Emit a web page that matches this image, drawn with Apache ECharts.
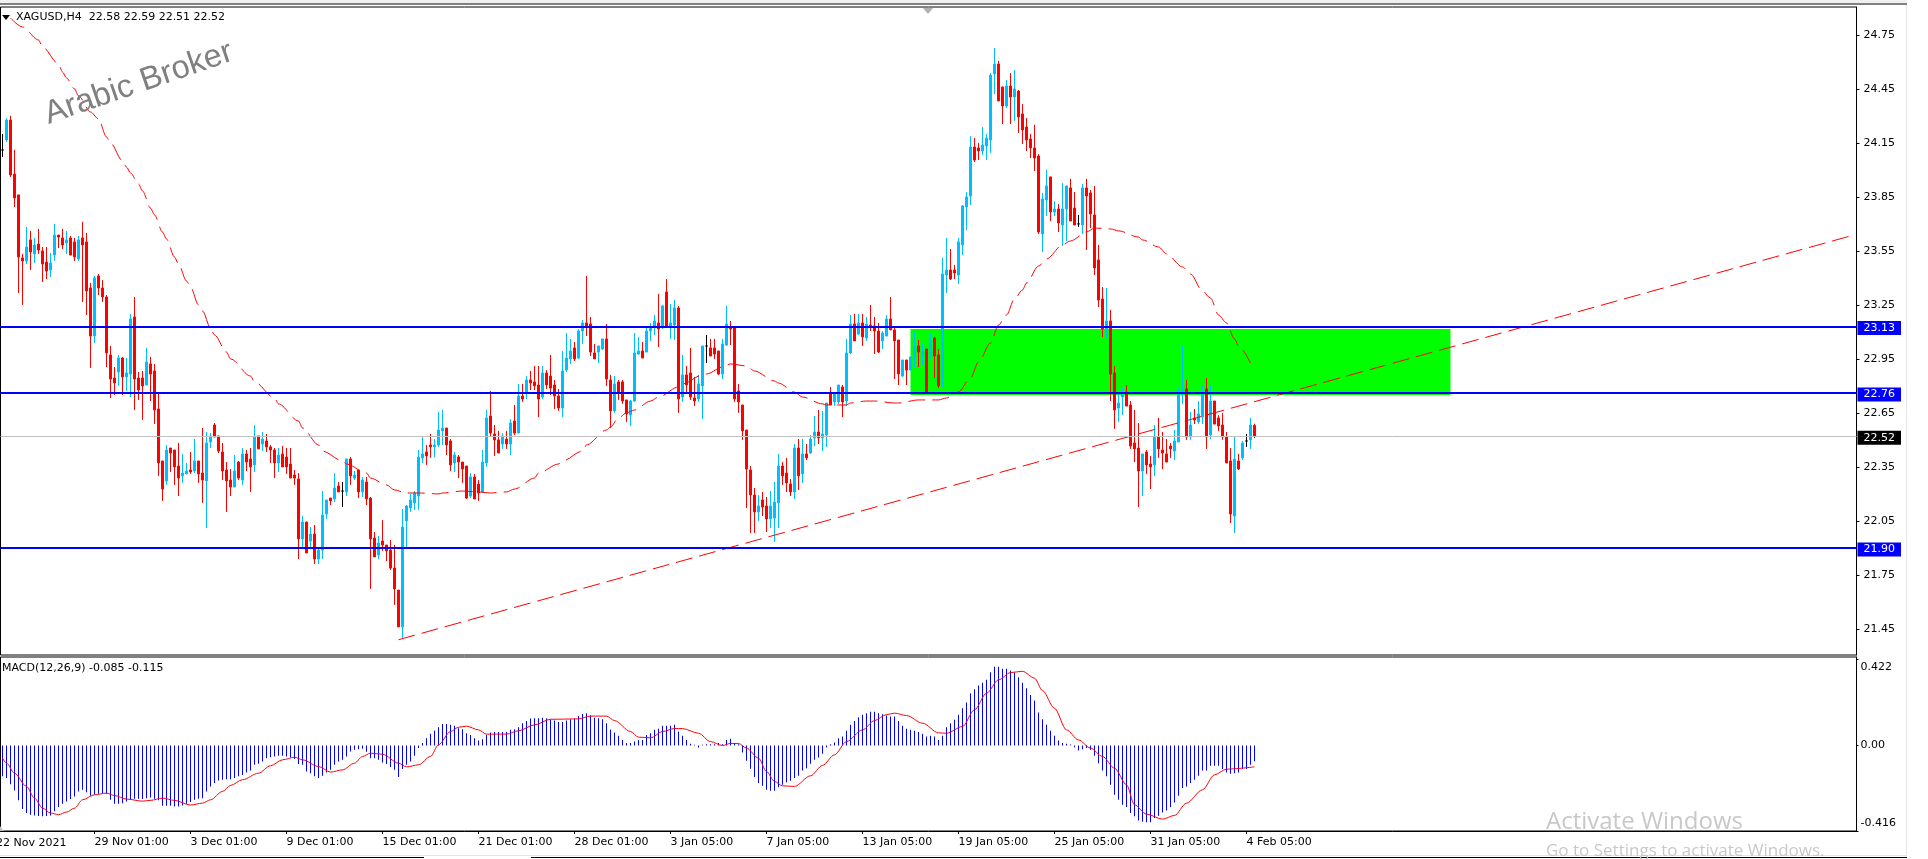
<!DOCTYPE html>
<html>
<head>
<meta charset="utf-8">
<title>XAGUSD,H4</title>
<script src="https://cdn.jsdelivr.net/npm/echarts@6/dist/echarts.min.js"></script>
<style>
html, body { margin: 0; padding: 0; background: #fff; }
#chart { width: 1928px; height: 859px; }
</style>
</head>
<body>
<div id="chart"></div>
<script>
// bars, oldest first
const opens = [
24.111,24.166,24.277,23.977,23.861,23.511,23.494,23.611,23.533,23.588,
23.550,23.488,23.444,23.527,23.638,23.622,23.594,23.622,23.600,23.505,
23.622,23.600,23.344,23.077,23.411,23.344,23.294,22.972,22.844,22.877,
22.955,22.850,22.866,23.183,22.844,22.844,22.805,22.922,22.883,22.672,
22.383,22.272,22.455,22.444,22.355,22.300,22.311,22.333,22.327,22.383,
22.316,22.272,22.488,22.583,22.522,22.433,22.333,22.277,22.238,22.377,
22.277,22.422,22.394,22.361,22.522,22.477,22.494,22.461,22.444,22.372,
22.422,22.405,22.366,22.305,22.283,21.950,22.044,21.938,21.977,21.838,
21.888,22.088,22.177,22.172,22.244,22.216,22.211,22.394,22.288,22.333,
22.211,22.266,22.177,21.955,21.861,21.938,21.916,21.888,21.788,21.666,
21.461,22.050,22.122,22.150,22.188,22.400,22.433,22.472,22.461,22.472,
22.550,22.566,22.494,22.372,22.405,22.377,22.355,22.188,22.294,22.255,
22.211,22.372,22.633,22.533,22.500,22.477,22.505,22.477,22.605,22.538,
22.744,22.761,22.833,22.822,22.805,22.738,22.872,22.855,22.805,22.744,
22.677,22.888,22.950,23.011,22.955,23.105,23.150,23.144,22.983,22.988,
23.005,23.061,22.833,22.661,22.822,22.822,22.722,22.638,22.716,22.977,
22.994,22.988,23.105,23.127,23.150,23.127,23.322,23.127,23.138,23.233,
22.738,22.861,22.872,22.733,22.727,22.800,23.022,23.011,23.011,22.994,
22.866,23.027,23.127,23.127,22.772,22.694,22.555,22.333,22.194,22.100,
22.166,22.133,22.061,22.066,22.150,22.355,22.316,22.255,22.211,22.455,
22.311,22.422,22.427,22.511,22.544,22.511,22.527,22.761,22.711,22.711,
22.794,22.716,22.983,23.144,23.088,23.150,23.066,23.138,23.133,23.105,
23.050,23.077,23.172,23.111,23.055,22.855,22.944,22.888,22.955,23.022,
22.966,23.005,22.955,23.066,22.972,22.800,23.416,23.444,23.444,23.416,
23.583,23.794,23.855,24.127,24.122,24.105,24.133,24.166,24.533,24.588,
24.461,24.355,24.466,24.405,24.438,24.311,24.238,24.172,24.122,24.077,
23.644,23.833,23.961,23.766,23.783,23.694,23.783,23.900,23.788,23.700,
23.694,23.900,23.872,23.750,23.500,23.283,23.072,23.161,22.872,22.677,
22.738,22.766,22.694,22.483,22.455,22.327,22.433,22.366,22.361,22.516,
22.444,22.422,22.466,22.438,22.488,22.750,22.783,22.516,22.622,22.600,
22.627,22.783,22.527,22.716,22.622,22.583,22.516,22.383,22.077,22.383,
22.400,22.494,22.500,22.58]
const highs = [
24.200,24.288,24.300,24.111,23.861,23.533,23.683,23.661,23.622,23.672,
23.572,23.572,23.538,23.700,23.638,23.672,23.661,23.633,23.622,23.633,
23.711,23.650,23.372,23.411,23.422,23.388,23.305,23.022,22.905,22.972,
22.961,22.955,23.200,23.294,22.877,22.883,23.011,22.961,22.922,22.761,
22.383,22.472,22.455,22.444,22.483,22.422,22.372,22.433,22.505,22.383,
22.566,22.544,22.538,22.594,22.522,22.483,22.377,22.338,22.416,22.383,
22.455,22.444,22.455,22.583,22.522,22.544,22.533,22.472,22.455,22.455,
22.466,22.455,22.455,22.333,22.316,22.077,22.044,22.016,22.027,21.894,
22.216,22.166,22.177,22.316,22.266,22.266,22.394,22.405,22.327,22.333,
22.294,22.294,22.183,21.988,21.966,22.055,21.916,21.944,21.916,21.666,
22.116,22.138,22.200,22.216,22.444,22.522,22.472,22.533,22.505,22.655,
22.666,22.566,22.505,22.433,22.416,22.377,22.355,22.316,22.311,22.277,
22.444,22.666,22.772,22.583,22.550,22.538,22.550,22.616,22.694,22.811,
22.811,22.855,22.883,22.911,22.911,22.911,22.888,22.972,22.833,22.783,
22.994,23.094,23.061,23.044,23.116,23.166,23.411,23.183,23.033,23.022,
23.061,23.144,22.861,22.855,22.833,22.833,22.722,22.722,23.094,23.072,
23.044,23.122,23.150,23.194,23.311,23.250,23.394,23.255,23.278,23.244,
22.972,22.911,23.011,22.850,22.861,23.022,23.083,23.061,23.061,22.994,
23.061,23.244,23.161,23.127,22.811,22.694,22.555,22.355,22.233,22.194,
22.211,22.183,22.216,22.266,22.422,22.377,22.400,22.283,22.477,22.505,
22.505,22.477,22.527,22.633,22.666,22.661,22.705,22.794,22.761,22.805,
22.805,23.061,23.194,23.200,23.200,23.200,23.183,23.250,23.183,23.150,
23.105,23.194,23.294,23.133,23.055,22.944,22.944,22.961,23.105,23.055,
23.038,23.005,23.094,23.072,23.005,23.511,23.622,23.561,23.472,23.622,
23.805,23.877,24.188,24.177,24.150,24.238,24.200,24.538,24.677,24.605,
24.461,24.500,24.538,24.555,24.444,24.366,24.288,24.200,24.250,24.088,
23.872,24.000,23.961,23.827,23.811,23.927,23.911,23.950,23.877,23.750,
23.922,23.950,23.888,23.911,23.583,23.349,23.344,23.222,22.911,22.755,
22.794,22.805,22.716,22.666,22.594,22.422,22.444,22.411,22.583,22.622,
22.544,22.505,22.483,22.555,22.794,23.022,22.833,22.655,22.672,22.716,
22.805,22.844,22.805,22.716,22.638,22.650,22.544,22.455,22.516,22.422,
22.494,22.533,22.622,22.59]
const lows = [
24.072,24.155,23.961,23.794,23.316,23.250,23.477,23.444,23.483,23.533,
23.377,23.394,23.405,23.494,23.566,23.561,23.533,23.527,23.494,23.494,
23.266,23.194,22.900,23.038,23.305,23.266,22.905,22.733,22.750,22.800,
22.750,22.772,22.738,22.666,22.722,22.611,22.805,22.716,22.588,22.300,
22.161,22.250,22.322,22.250,22.188,22.261,22.311,22.311,22.316,22.261,
22.150,22.011,22.455,22.516,22.427,22.277,22.100,22.188,22.238,22.277,
22.250,22.327,22.211,22.322,22.450,22.438,22.433,22.372,22.288,22.322,
22.350,22.311,22.288,22.250,21.838,21.894,21.872,21.894,21.811,21.811,
21.838,22.061,22.138,22.155,22.211,22.127,22.188,22.250,22.277,22.177,
22.183,22.138,21.672,21.850,21.838,21.883,21.827,21.777,21.583,21.461,
21.400,21.894,22.100,22.111,22.111,22.372,22.361,22.400,22.405,22.461,
22.472,22.416,22.327,22.322,22.288,22.261,22.172,22.177,22.172,22.161,
22.205,22.350,22.522,22.411,22.427,22.450,22.450,22.416,22.527,22.538,
22.711,22.727,22.777,22.777,22.627,22.727,22.783,22.750,22.672,22.661,
22.627,22.877,22.922,22.938,22.950,23.033,23.077,22.966,22.950,22.927,
23.000,22.800,22.566,22.650,22.722,22.700,22.600,22.577,22.711,22.972,
22.955,22.988,23.050,23.083,23.016,23.116,23.127,23.061,23.055,22.650,
22.711,22.755,22.722,22.688,22.711,22.616,22.927,22.966,22.950,22.861,
22.838,23.022,23.027,22.711,22.650,22.500,22.122,21.983,21.983,22.050,
22.077,21.988,22.011,21.933,22.011,22.250,22.211,22.188,22.172,22.222,
22.261,22.388,22.422,22.466,22.477,22.438,22.461,22.694,22.688,22.700,
22.627,22.688,22.977,23.050,23.083,23.022,23.050,23.105,22.977,22.983,
23.005,23.077,23.111,22.838,22.805,22.850,22.805,22.888,22.905,22.905,
22.916,22.766,22.955,22.844,22.788,22.794,23.316,23.388,23.394,23.366,
23.527,23.666,23.805,24.044,24.055,24.083,24.055,24.094,24.422,24.383,
24.255,24.344,24.255,24.272,24.205,24.144,24.105,24.066,23.994,23.644,
23.544,23.744,23.716,23.744,23.655,23.577,23.605,23.716,23.694,23.683,
23.644,23.555,23.677,23.416,23.238,23.072,23.072,22.716,22.561,22.600,
22.638,22.688,22.450,22.377,22.127,22.188,22.311,22.227,22.300,22.400,
22.338,22.377,22.400,22.388,22.488,22.700,22.500,22.500,22.588,22.588,
22.588,22.450,22.505,22.588,22.550,22.500,22.372,22.038,21.983,22.333,
22.388,22.461,22.450,22.51]
const closes = [
24.111,24.277,23.972,23.844,23.516,23.494,23.572,23.544,23.583,23.555,
23.477,23.438,23.483,23.638,23.627,23.583,23.611,23.527,23.516,23.611,
23.583,23.327,23.077,23.400,23.344,23.294,22.983,22.838,22.816,22.955,
22.850,22.872,23.172,22.838,22.777,22.800,22.933,22.866,22.666,22.372,
22.227,22.444,22.427,22.350,22.288,22.316,22.327,22.322,22.383,22.311,
22.277,22.483,22.522,22.516,22.438,22.327,22.272,22.238,22.327,22.288,
22.422,22.377,22.350,22.516,22.450,22.505,22.461,22.444,22.372,22.416,
22.350,22.350,22.288,22.288,21.950,22.044,21.872,21.977,21.838,21.888,
22.083,22.166,22.161,22.233,22.211,22.216,22.394,22.300,22.305,22.211,
22.277,22.172,21.950,21.850,21.927,21.916,21.883,21.788,21.672,21.461,
22.016,22.133,22.166,22.205,22.405,22.422,22.411,22.461,22.472,22.555,
22.566,22.472,22.361,22.416,22.377,22.338,22.177,22.294,22.172,22.205,
22.377,22.622,22.538,22.500,22.427,22.522,22.477,22.594,22.538,22.744,
22.727,22.833,22.816,22.800,22.727,22.872,22.805,22.788,22.744,22.677,
22.883,22.955,22.994,22.950,23.105,23.150,23.127,22.988,22.950,23.022,
23.061,22.838,22.661,22.811,22.761,22.716,22.644,22.716,22.983,22.994,
22.955,23.105,23.127,23.161,23.116,23.244,23.127,23.150,23.233,22.727,
22.861,22.805,22.738,22.716,22.811,23.022,23.022,22.966,22.977,22.866,
23.033,23.144,23.116,22.727,22.711,22.550,22.338,22.194,22.100,22.133,
22.127,22.061,22.133,22.155,22.355,22.300,22.261,22.211,22.455,22.300,
22.422,22.400,22.505,22.544,22.511,22.533,22.705,22.694,22.761,22.805,
22.711,22.983,23.144,23.050,23.150,23.072,23.144,23.127,23.105,22.988,
23.094,23.172,23.111,23.050,22.866,22.944,22.888,22.961,23.016,22.988,
22.988,22.766,23.055,22.966,22.800,23.422,23.444,23.394,23.427,23.600,
23.800,23.850,24.127,24.055,24.105,24.138,24.177,24.527,24.588,24.383,
24.355,24.466,24.405,24.450,24.294,24.222,24.166,24.122,24.066,23.655,
23.838,23.911,23.766,23.783,23.705,23.783,23.911,23.716,23.694,23.700,
23.900,23.855,23.755,23.455,23.277,23.116,23.161,22.866,22.666,22.705,
22.761,22.688,22.466,22.450,22.327,22.422,22.361,22.350,22.516,22.450,
22.427,22.377,22.450,22.494,22.777,22.783,22.516,22.583,22.611,22.644,
22.755,22.516,22.716,22.588,22.577,22.516,22.372,22.088,22.394,22.338,
22.483,22.494,22.583,22.52]

// moving average, read at these bars
const maBars = [2,5,9,10,14,15,16,18,19,22,24,26,27,30,31,32,34,35,37,38,40,41,43,44,46,47,49,50,52,53,56,57,62,63,68,69,74,75,79,80,85,86,91,92,96,98,101,104,109,110,115,119,122,126,128,133,134,139,140,145,146,151,152,154,156,158,162,164,169,170,175,176,180,182,186,188,193,194,198,200,205,206,211,212,216,218,223,224,229,230,234,236,239,242,244,247,249,251,253,255,256,259,261,265,267,271,273,277,279,284,285,289,291,295,297,300,302,304,306,308,309,312]
const maValues = [24.844,24.794,24.722,24.683,24.589,24.544,24.511,24.450,24.411,24.322,24.283,24.183,24.150,24.050,24.016,23.983,23.922,23.883,23.788,23.750,23.655,23.616,23.516,23.477,23.383,23.350,23.250,23.216,23.122,23.083,22.988,22.950,22.855,22.822,22.733,22.700,22.605,22.566,22.472,22.438,22.383,22.366,22.316,22.288,22.250,22.222,22.205,22.205,22.200,22.205,22.216,22.211,22.205,22.211,22.227,22.288,22.316,22.366,22.383,22.438,22.472,22.555,22.572,22.622,22.650,22.666,22.716,22.738,22.794,22.811,22.861,22.866,22.905,22.922,22.911,22.883,22.827,22.816,22.766,22.738,22.700,22.694,22.694,22.705,22.716,22.716,22.705,22.705,22.722,22.722,22.722,22.733,22.766,22.844,22.933,23.038,23.138,23.194,23.283,23.333,23.372,23.466,23.505,23.583,23.605,23.655,23.677,23.672,23.661,23.627,23.611,23.572,23.533,23.461,23.422,23.327,23.288,23.194,23.150,23.061,23.022,22.927]

// objects drawn on the chart
const trendBars = [99, 462]
const trendValues = [21.39, 23.633]
const zoneBars = [227, 362]
const zoneValues = [23.116, 22.75]
const levels = [23.13, 22.76, 21.9]
const bid = 22.52

// MACD histogram, one per bar
const macdHist = [
-.166,-.175,-.208,-.242,-.295,-.342,-.363,-.372,-.376,-.379,
-.381,-.379,-.376,-.354,-.331,-.313,-.301,-.288,-.274,-.247,
-.238,-.252,-.270,-.263,-.260,-.256,-.260,-.292,-.313,-.313,
-.310,-.301,-.292,-.286,-.286,-.288,-.283,-.279,-.286,-.295,
-.324,-.324,-.324,-.328,-.328,-.322,-.313,-.304,-.292,-.286,
-.283,-.247,-.220,-.202,-.188,-.184,-.181,-.181,-.175,-.166,
-.158,-.145,-.134,-.104,-.098,-.086,-.068,-.063,-.059,-.055,
-.055,-.059,-.063,-.073,-.100,-.104,-.140,-.149,-.166,-.175,
-.163,-.145,-.131,-.104,-.086,-.077,-.059,-.032,-.023,-.020,
-.018,-.034,-.068,-.068,-.077,-.091,-.100,-.116,-.131,-.170,
-.127,-.104,-.086,-.055,-.014,.013,.039,.063,.081,.098,
.116,.116,.111,.106,.093,.088,.066,.057,.039,.027,
.034,.057,.070,.073,.073,.073,.073,.084,.088,.098,
.120,.132,.145,.147,.147,.149,.147,.138,.134,.127,
.127,.134,.141,.145,.159,.170,.174,.163,.149,.147,
.141,.120,.084,.070,.052,.030,.013,.013,.021,.030,
.030,.057,.066,.084,.090,.106,.106,.106,.111,.075,
.052,.030,.009,.004,-.011,.004,.007,.007,.007,.013,
.007,.030,.036,.013,.007,-.038,-.082,-.125,-.170,-.202,
-.217,-.238,-.243,-.243,-.224,-.211,-.197,-.190,-.175,-.163,
-.134,-.122,-.098,-.077,-.064,-.045,-.011,.007,.016,.039,
.048,.079,.111,.132,.152,.165,.174,.181,.181,.174,
.168,.161,.156,.156,.132,.106,.090,.084,.079,.072,
.063,.048,.052,.048,.030,.052,.098,.120,.138,.165,
.200,.231,.281,.303,.322,.338,.353,.394,.424,.424,
.412,.412,.403,.392,.367,.338,.308,.272,.242,.177,
.141,.111,.079,.052,.027,.013,.009,.005,-.009,-.027,
-.020,-.014,-.023,-.055,-.095,-.134,-.166,-.211,-.265,-.292,
-.319,-.331,-.363,-.381,-.403,-.410,-.413,-.413,-.390,-.378,
-.360,-.349,-.331,-.306,-.270,-.229,-.220,-.202,-.184,-.163,
-.134,-.134,-.109,-.109,-.109,-.127,-.145,-.152,-.149,-.145,
-.127,-.127,-.104,-.085]

// MACD signal line, read at these bars
const signalBars = [0,1,3,6,8,10,12,14,16,18,20,23,26,28,31,35,37,40,43,47,50,52,55,57,60,64,67,70,73,75,79,82,85,88,90,92,95,99,101,104,107,109,112,114,116,119,121,126,129,133,137,144,147,151,153,157,159,162,165,168,170,174,177,180,182,184,186,189,191,193,195,198,202,205,208,211,215,218,221,223,226,230,234,236,240,243,246,249,252,255,258,260,263,266,269,272,275,278,281,283,286,290,293,296,300,303,306,313]
const signalValues = [-.068,-.095,-.149,-.220,-.283,-.337,-.363,-.372,-.358,-.337,-.292,-.265,-.256,-.269,-.288,-.299,-.295,-.283,-.295,-.320,-.310,-.292,-.247,-.215,-.184,-.149,-.109,-.077,-.063,-.077,-.113,-.143,-.131,-.095,-.059,-.041,-.047,-.095,-.115,-.104,-.059,.004,.075,.098,.104,.084,.061,.061,.079,.111,.141,.143,.158,.158,.134,.075,.045,.041,.075,.091,.091,.066,.021,0,.011,.011,-.014,-.068,-.140,-.193,-.217,-.220,-.163,-.107,-.050,.021,.084,.134,.166,.174,.161,.120,.068,.066,.102,.192,.281,.353,.392,.399,.362,.295,.200,.084,.030,-.014,-.059,-.122,-.211,-.319,-.369,-.396,-.376,-.310,-.238,-.158,-.127,-.115]

// axis ticks
const tickBars = [23,47,71,95,119,143,167,191,215,239,263,287,311]
const tickLabels = ['29 Nov 01:00','3 Dec 01:00','9 Dec 01:00','15 Dec 01:00','21 Dec 01:00','28 Dec 01:00','3 Jan 05:00','7 Jan 05:00','13 Jan 05:00','19 Jan 05:00','25 Jan 05:00','31 Jan 05:00','4 Feb 05:00']
const priceTicks = [24.75,24.45,24.15,23.85,23.55,23.25,22.95,22.65,22.35,22.05,21.75,21.45]
const macdLabelValues = [0.422,0,-0.416]
const macdLabels = ['0.422','0.00','-0.416']
const macdTickMarks = [0.465,0,-0.4597]

const SLOTS = 464
const FONT = '"DejaVu Sans"'
const categories = Array.from({length: SLOTS}, (_, i) => {
  let k = tickBars.indexOf(i)
  return k >= 0 ? tickLabels[k] : String(i)
})
const isTick = (i) => tickBars.indexOf(i) >= 0
const pairs = (xs, ys) => xs.map((x, i) => [x, ys[i]])
const candles = opens.map((o, i) => [o, closes[i], lows[i], highs[i]])

function levelLine(v, color, width, tagColor) {
  return {
    yAxis: v,
    lineStyle: {color: color, width: width, type: 'solid'},
    label: {
      show: true, position: 'end', distance: 1, offset: [0, 1.5],
      formatter: v.toFixed(2), color: '#fff', backgroundColor: tagColor,
      padding: [1, 6, 1, 6], fontFamily: FONT, fontSize: 11, lineHeight: 12
    }
  }
}

let chart = echarts.init(document.getElementById('chart'), null, {renderer: 'canvas'})
chart.setOption({
  animation: false,
  backgroundColor: '#fff',
  grid: [
    {left: 0.5, top: 7, width: 1856, height: 648, show: true, borderColor: '#000', borderWidth: 1, backgroundColor: 'transparent'},
    {left: 0.5, top: 657, width: 1856, height: 174, show: true, borderColor: '#000', borderWidth: 1, backgroundColor: 'transparent'}
  ],
  xAxis: [
    {type: 'category', gridIndex: 0, data: categories, boundaryGap: true, axisLine: {show: false}, axisTick: {show: false}, axisLabel: {show: false}, splitLine: {show: false}},
    {
      type: 'category', gridIndex: 1, data: categories, boundaryGap: true,
      axisLine: {show: true, onZero: false, lineStyle: {color: '#000'}},
      axisTick: {show: true, alignWithLabel: true, length: 3, interval: isTick, lineStyle: {color: '#000'}},
      axisLabel: {show: true, interval: isTick, align: 'left', margin: 6, color: '#000', fontFamily: FONT, fontSize: 11},
      splitLine: {show: false}
    }
  ],
  yAxis: [
    {
      type: 'value', gridIndex: 0, position: 'right', min: 21.305, max: 24.905, scale: true,
      axisLine: {show: true, lineStyle: {color: '#000'}},
      axisTick: {show: true, length: 3, customValues: priceTicks, lineStyle: {color: '#000'}},
      axisLabel: {show: true, margin: 7, customValues: priceTicks, formatter: (v) => v.toFixed(2), color: '#000', fontFamily: FONT, fontSize: 11, showMinLabel: true, showMaxLabel: true},
      splitLine: {show: false}
    },
    {
      type: 'value', gridIndex: 1, position: 'right', min: -0.4597, max: 0.4758, scale: true,
      axisLine: {show: true, lineStyle: {color: '#000'}},
      axisTick: {show: true, length: 2, customValues: macdTickMarks, lineStyle: {color: '#000'}},
      axisLabel: {show: true, margin: 4, customValues: macdLabelValues, formatter: (v) => macdLabels[macdLabelValues.indexOf(v)], color: '#000', fontFamily: FONT, fontSize: 11},
      splitLine: {show: false}
    }
  ],
  series: [
    {
      name: 'zone', type: 'line', xAxisIndex: 0, yAxisIndex: 0, data: [], z: 1, silent: true,
      markArea: {
        silent: true, itemStyle: {color: '#00ff00', opacity: 1},
        data: [[{coord: [zoneBars[0], zoneValues[0]]}, {coord: [zoneBars[1], zoneValues[1]]}]]
      },
      markLine: {
        silent: true, symbol: 'none', animation: false,
        data: [levelLine(bid, '#c0c0c0', 1, '#000')]
      }
    },
    {
      name: 'XAGUSD', type: 'candlestick', xAxisIndex: 0, yAxisIndex: 0, z: 2,
      data: candles, barWidth: 3, large: false, progressive: 0, clip: true,
      itemStyle: {color: '#00bfff', color0: '#ff0000', borderColor: '#00bfff', borderColor0: '#ff0000', borderColorDoji: '#000', borderWidth: 1}
    },
    {
      name: 'MA', type: 'line', xAxisIndex: 0, yAxisIndex: 0, z: 3, silent: true,
      data: pairs(maBars, maValues), showSymbol: false, symbol: 'none',
      smooth: 0.3, smoothMonotone: 'x',
      lineStyle: {color: '#ff0000', width: 1, type: [17, 7]}
    },
    {
      name: 'trend', type: 'line', xAxisIndex: 0, yAxisIndex: 0, z: 3, silent: true,
      data: pairs(trendBars, trendValues), showSymbol: false, symbol: 'none',
      lineStyle: {color: '#ff0000', width: 1, type: [17, 7]}
    },
    {
      name: 'levels', type: 'line', xAxisIndex: 0, yAxisIndex: 0, data: [], z: 4, silent: true,
      markLine: {
        silent: true, symbol: 'none', animation: false,
        data: levels.map((v) => levelLine(v, '#0000ff', 2, '#0000ff'))
      }
    },
    {
      name: 'MACD', type: 'bar', xAxisIndex: 1, yAxisIndex: 1, z: 2, data: macdHist,
      barWidth: 1, itemStyle: {color: '#0000ff'}, silent: true
    },
    {
      name: 'Signal', type: 'line', xAxisIndex: 1, yAxisIndex: 1, z: 3, silent: true,
      data: pairs(signalBars, signalValues), showSymbol: false, symbol: 'none',
      smooth: 0.3, smoothMonotone: 'x',
      lineStyle: {color: '#ff0000', width: 1}
    }
  ],
  graphic: [
    // window frame
    {type: 'rect', shape: {x: 0, y: 0, width: 1907, height: 3}, style: {fill: '#f0f0f0'}, silent: true},
    {type: 'rect', shape: {x: 0, y: 3, width: 1907, height: 2}, style: {fill: '#808080'}, silent: true},
    {type: 'rect', shape: {x: 1906, y: 5, width: 1, height: 850}, style: {fill: '#e4e4e4'}, silent: true},
    {type: 'rect', shape: {x: 0, y: 855, width: 1907, height: 1}, style: {fill: '#e4e4e4'}, silent: true},
    {type: 'rect', shape: {x: 0, y: 857, width: 424, height: 1}, style: {fill: '#000'}, silent: true},
    {type: 'rect', shape: {x: 531, y: 857, width: 1376, height: 1}, style: {fill: '#000'}, silent: true},
    {type: 'polygon', shape: {points: [[2, 15], [10, 15], [6, 20]]}, style: {fill: '#000'}, silent: true},
    {type: 'polygon', shape: {points: [[923, 8], [933, 8], [928, 14]]}, style: {fill: '#b0b0b0'}, silent: true},
    {type: 'polygon', shape: {points: [[0, 826], [4, 831], [0, 831]]}, style: {fill: '#c0c0c0'}, silent: true},
    {type: 'text', x: 16, y: 17, z: 10, silent: true, style: {text: 'XAGUSD,H4  22.58 22.59 22.51 22.52', fill: '#000', font: '11px ' + FONT, textVerticalAlign: 'middle'}},
    {type: 'text', x: 2, y: 668, z: 10, silent: true, style: {text: 'MACD(12,26,9) -0.085 -0.115', fill: '#000', font: '11px ' + FONT, textVerticalAlign: 'middle'}},
    {type: 'text', x: -4, y: 843, z: 10, silent: true, style: {text: '22 Nov 2021', fill: '#000', font: '11px ' + FONT, textVerticalAlign: 'middle'}},
    {type: 'text', x: 51, y: 131, rotation: 19 * Math.PI / 180, z: 10, silent: true, style: {text: 'Arabic Broker', fill: '#808080', font: '32.5px "Liberation Sans"', textVerticalAlign: 'bottom'}},
    {type: 'text', x: 1546, y: 822, z: 10, silent: true, style: {text: 'Activate Windows', fill: '#c8c8c8', font: '24px "Open Sans"', textVerticalAlign: 'middle'}},
    {type: 'text', x: 1546, y: 851, z: 10, silent: true, style: {text: 'Go to Settings to activate Windows.', fill: '#c8c8c8', font: '17px "Open Sans"', textVerticalAlign: 'middle'}}
  ]
})
</script>
</body>
</html>
